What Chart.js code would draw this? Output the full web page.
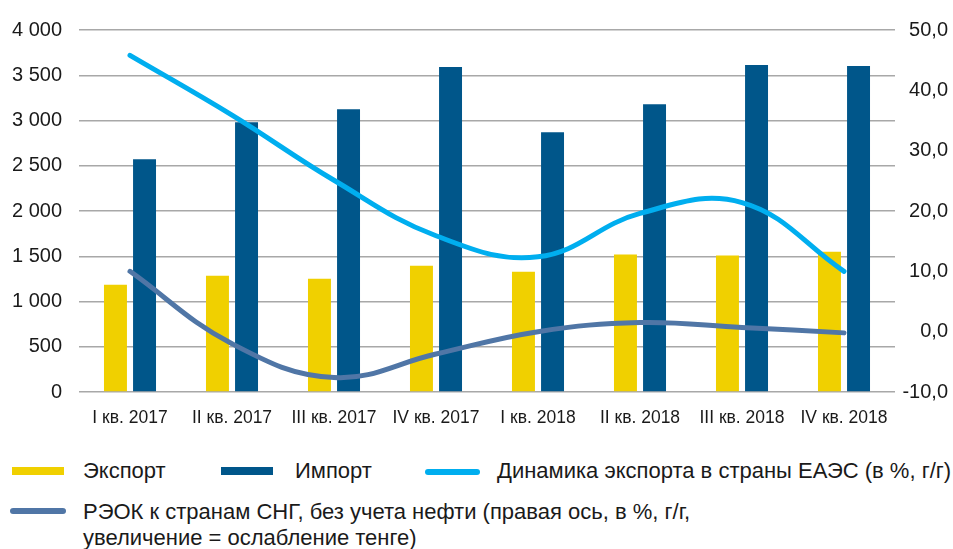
<!DOCTYPE html>
<html>
<head>
<meta charset="utf-8">
<script src="https://cdn.jsdelivr.net/npm/chart.js@4"></script>
<style>
  body { margin: 0; background: #fff; font-family: 'Liberation Sans', Arial, Helvetica, sans-serif; color: #1a1a1a; }
  #wrap { position: relative; width: 953px; height: 549px; }
  #chart { position: absolute; left: 0; top: 0; }
  .sw { position: absolute; }
  .lt { position: absolute; font-size: 22px; line-height: 26px; white-space: nowrap; }
</style>
</head>
<body>
<div id="wrap">
  <canvas id="chart" width="953" height="440"></canvas>
  <div class="sw" style="left:12px;top:467px;width:52px;height:8px;background:#f0d000"></div>
  <div class="lt" style="left:83px;top:458px">Экспорт</div>
  <div class="sw" style="left:221px;top:467px;width:52px;height:8px;background:#00568a"></div>
  <div class="lt" style="left:295px;top:458px">Импорт</div>
  <div class="sw" style="left:425px;top:469px;width:55px;height:6px;border-radius:3px;background:#00aeef"></div>
  <div class="lt" style="left:497px;top:458px">Динамика экспорта в страны ЕАЭС (в %, г/г)</div>
  <div class="sw" style="left:10px;top:508px;width:56px;height:6px;border-radius:3px;background:#5076a6"></div>
  <div class="lt" style="left:83px;top:499px">РЭОК к странам СНГ, без учета нефти (правая ось, в %, г/г,<br>увеличение = ослабление тенге)</div>
</div>
<script>
// quarters on the x axis
const quarters = ['I кв. 2017', 'II кв. 2017', 'III кв. 2017', 'IV кв. 2017',
                  'I кв. 2018', 'II кв. 2018', 'III кв. 2018', 'IV кв. 2018'];

// left axis, values
const exportVals = [1185, 1285, 1252, 1396, 1330, 1518, 1507, 1551];
const importVals = [2571, 2981, 3125, 3590, 2870, 3180, 3612, 3601];

// right axis, %
const eaeuGrowth = [45.8, 35.9, 25.1, 15.9, 12.4, 19.6, 21.4, 10.0];
const reerCis = [10.0, -2.0, -7.6, -3.7, 0.0, 1.5, 0.7, -0.2];

const tickFont = { family: "'Liberation Sans', Arial, Helvetica, sans-serif", size: 20 };

new Chart(document.getElementById('chart').getContext('2d'), {
  type: 'bar',
  data: {
    labels: quarters,
    datasets: [
      {
        type: 'line',
        label: 'Динамика экспорта в страны ЕАЭС (в %, г/г)',
        data: eaeuGrowth,
        yAxisID: 'y1',
        borderColor: '#00aeef',
        borderWidth: 5,
        borderCapStyle: 'round',
        pointRadius: 0,
        tension: 0.4,
        order: 0
      },
      {
        type: 'line',
        label: 'РЭОК к странам СНГ',
        data: reerCis,
        yAxisID: 'y1',
        borderColor: '#5076a6',
        borderWidth: 5,
        borderCapStyle: 'round',
        pointRadius: 0,
        tension: 0.4,
        order: 0
      },
      {
        label: 'Экспорт',
        data: exportVals,
        backgroundColor: '#f0d000',
        categoryPercentage: 0.57,
        barPercentage: 0.79,
        order: 1
      },
      {
        label: 'Импорт',
        data: importVals,
        backgroundColor: '#00568a',
        categoryPercentage: 0.57,
        barPercentage: 0.79,
        order: 1
      }
    ]
  },
  options: {
    responsive: false,
    animation: false,
    devicePixelRatio: 1,
    layout: { padding: { left: 12, right: 5, top: 30, bottom: 3 } },
    plugins: { legend: { display: false }, tooltip: { enabled: false } },
    scales: {
      x: {
        grid: { display: false },
        border: { display: false },
        ticks: {
          color: '#1a1a1a',
          padding: 8,
          maxRotation: 0,
          font: { family: tickFont.family, size: 17.5 }
        }
      },
      y: {
        position: 'left',
        min: 0,
        max: 4000,
        border: { display: false },
        grid: { color: '#a8a8a8', lineWidth: 1.5, drawTicks: false },
        ticks: {
          stepSize: 500,
          padding: 17,
          color: '#1a1a1a',
          font: tickFont,
          callback: v => v >= 1000 ? Math.floor(v / 1000) + ' ' + String(v % 1000).padStart(3, '0') : String(v)
        },
        afterFit: axis => { axis.width = 67; }
      },
      y1: {
        position: 'right',
        min: -10,
        max: 50,
        border: { display: false },
        grid: { drawOnChartArea: false, drawTicks: false },
        ticks: {
          stepSize: 10,
          padding: 6,
          crossAlign: 'far',
          color: '#1a1a1a',
          font: tickFont,
          callback: v => v.toFixed(1).replace('.', ',')
        },
        afterFit: axis => { axis.width = 53; }
      }
    }
  }
});
</script>
</body>
</html>
